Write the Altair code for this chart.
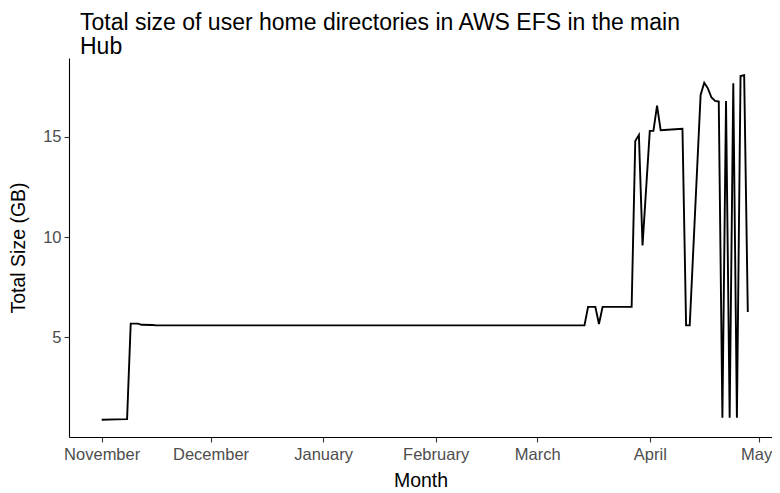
import altair as alt
import pandas as pd

dates = [
    "2022-11-01", "2022-11-05", "2022-11-08", "2022-11-09", "2022-11-11",
    "2022-11-12", "2022-11-15", "2022-11-16", "2023-03-14", "2023-03-15",
    "2023-03-17", "2023-03-18", "2023-03-19", "2023-03-27", "2023-03-28",
    "2023-03-29", "2023-03-30", "2023-04-01", "2023-04-02", "2023-04-03",
    "2023-04-04", "2023-04-08", "2023-04-10", "2023-04-11", "2023-04-12",
    "2023-04-15", "2023-04-16", "2023-04-17", "2023-04-18", "2023-04-19",
    "2023-04-20", "2023-04-21", "2023-04-22", "2023-04-23", "2023-04-24",
    "2023-04-25", "2023-04-26", "2023-04-27", "2023-04-28",
]
sizes_gb = [
    0.90, 0.92, 0.93, 5.69, 5.69,
    5.63, 5.62, 5.60, 5.60, 6.52,
    6.52, 5.67, 6.52, 6.52, 14.79,
    15.09, 9.58, 15.29, 15.29, 16.55,
    15.32, 15.37, 15.39, 5.60, 5.60,
    17.08, 17.69, 17.41, 16.95, 16.78,
    16.75, 1.00, 16.78, 1.00, 17.66,
    1.00, 18.02, 18.06, 6.27,
]
month_ticks = [(2022, 11), (2022, 12), (2023, 1), (2023, 2), (2023, 3), (2023, 4), (2023, 5)]
y_ticks = [5, 10, 15]

df = pd.DataFrame({"date": [d + "T00:00:00" for d in dates], "size": sizes_gb})

FONT = "Liberation Sans"

x_axis = alt.Axis(
    values=[alt.DateTime(year=y, month=m, date=1) for y, m in month_ticks],
    format="%B",
    title="Month",
    grid=False,
    labelFont=FONT, labelFontSize=16.5, labelColor="#4D4D4D", labelPadding=4,
    titleFont=FONT, titleFontSize=19.5, titleFontWeight="normal", titleColor="black",
    titlePadding=9,
    tickSize=5, tickColor="#333333", tickWidth=1.1,
    domainColor="black", domainWidth=1.1,
    labelFlush=14, labelFlushOffset=13, labelOverlap=False,
)
y_axis = alt.Axis(
    values=y_ticks,
    title="Total Size (GB)",
    grid=False,
    labelFont=FONT, labelFontSize=16.5, labelColor="#4D4D4D", labelPadding=3,
    titleFont=FONT, titleFontSize=19.5, titleFontWeight="normal", titleColor="black",
    titlePadding=14,
    tickSize=5, tickColor="#333333", tickWidth=1.1,
    domainColor="black", domainWidth=1.1,
)

chart = (
    alt.Chart(df)
    .mark_line(color="black", strokeWidth=1.9, clip=True)
    .encode(
        x=alt.X(
            "date:T",
            axis=x_axis,
            scale=alt.Scale(
                domain=[
                    alt.DateTime(year=2022, month=10, date=23),
                    alt.DateTime(year=2023, month=5, date=4, hours=16),
                ],
                nice=False,
            ),
        ),
        y=alt.Y(
            "size:Q",
            axis=y_axis,
            scale=alt.Scale(domain=[0.04, 18.92], nice=False, zero=False),
        ),
    )
    .properties(
        width=703,
        height=379,
        autosize=alt.AutoSizeParams(type="none"),
        padding={"left": 61, "top": 50, "right": 0, "bottom": 54},
        title=alt.TitleParams(
            text=["Total size of user home directories in AWS EFS in the main", "Hub"],
            anchor="start",
            frame="group",
            font=FONT,
            fontSize=23,
            fontWeight="normal",
            color="black",
            lineHeight=24,
            dx=11,
            offset=-1,
        ),
        background="white",
    )
    .configure_view(strokeWidth=0)
)

chart.save("out.html", embed_options={"renderer": "svg", "actions": False})
